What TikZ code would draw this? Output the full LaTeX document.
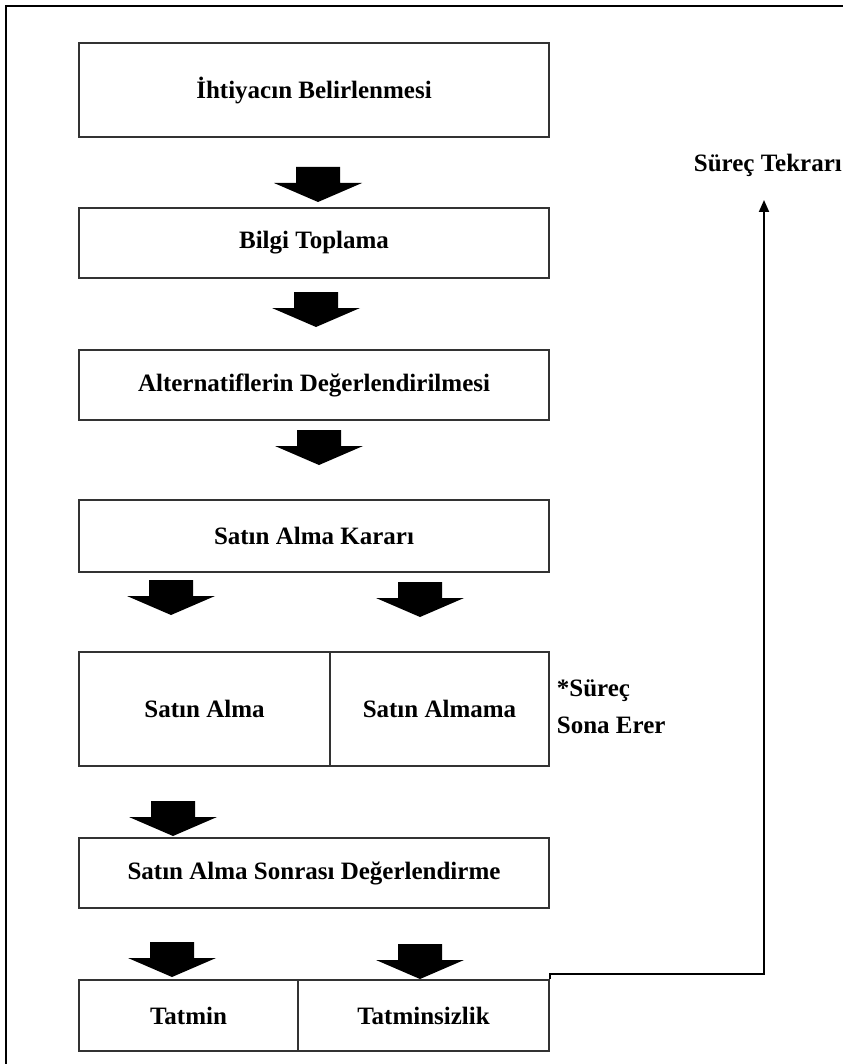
\documentclass[tikz,border=0pt]{standalone}
\usepackage{fontspec}
\setmainfont{Liberation Serif}
\usetikzlibrary{arrows.meta}
\definecolor{KutuGri}{rgb}{0.2, 0.2, 0.2}

\tikzset{
	kutu/.style={draw=KutuGri, line width=0.65pt, inner sep=0pt, align=center,
		font=\bfseries\fontsize{12.5}{15}\selectfont},
	etiket/.style={inner sep=0.75pt, font=\bfseries\fontsize{12.5}{18.5}\selectfont},
	donus/.style={black, line width=1pt, -{Triangle[width=5pt,length=6pt]}},
	kalinok/.pic={
		\fill[black] (-22,0) -- (22,0) -- (22,-16) -- (44,-16) -- (0,-35) -- (-44,-16) -- (-22,-16) -- cycle;
	}
}

\begin{document}
\begin{tikzpicture}[x=0.5pt,y=0.5pt,yscale=-1,xscale=1]
		\useasboundingbox (0,0) rectangle (843,1064);

		% Outer frame (only the left and top sides are inside the picture)
		\draw[black, line width=1pt] (6,1064) -- (6,6) -- (843,6);

		% The main steps, one box each
		\node[kutu, minimum width=235pt, minimum height=47pt] (ihtiyac) at (314,90) {İhtiyacın Belirlenmesi};
		\node[kutu, minimum width=235pt, minimum height=35pt] (bilgi) at (314,243) {Bilgi Toplama};
		\node[kutu, minimum width=235pt, minimum height=35pt] (alternatif) at (314,385) {Alternatiflerin Değerlendirilmesi};
		\node[kutu, minimum width=235pt, minimum height=36pt] (karar) at (314,536) {Satın Alma Kararı};

		% Split box: buy / do not buy
		\node[kutu, minimum width=125.5pt, minimum height=57pt] (alma) at (204.5,709) {Satın Alma};
		\node[kutu, minimum width=109.5pt, minimum height=57pt] (almama) at (439.5,709) {Satın Almama};

		\node[kutu, minimum width=235pt, minimum height=35pt] (sonrasi) at (314,873) {Satın Alma Sonrası Değerlendirme};

		% Split box: satisfied / not satisfied
		\node[kutu, minimum width=109.5pt, minimum height=35.5pt] (tatmin) at (188.5,1015.5) {Tatmin};
		\node[kutu, minimum width=125.5pt, minimum height=35.5pt] (tatminsiz) at (423.5,1015.5) {Tatminsizlik};

		% Thick block arrows between the steps
		\pic at (318,167) {kalinok};
		\pic at (316,292) {kalinok};
		\pic at (319,430) {kalinok};
		\pic at (171,580) {kalinok};
		\pic at (420,582) {kalinok};
		\pic at (173,801) {kalinok};
		\pic at (172,942) {kalinok};
		\pic at (420,944) {kalinok};

		% Side texts
		\node[etiket, align=left, anchor=west] (bitis) at (555,707) {*Süreç\\Sona Erer};
		\node[etiket, anchor=west] (tekrar) at (692,165) {Süreç Tekrarı};
		\coordinate (tekrarucu) at (764,200);

		% Return line from the last box up to the repeat label
		\draw[donus] (tatminsiz.north east) -- ++(0,-5) -| (tekrarucu);
	\end{tikzpicture}
\end{document}
